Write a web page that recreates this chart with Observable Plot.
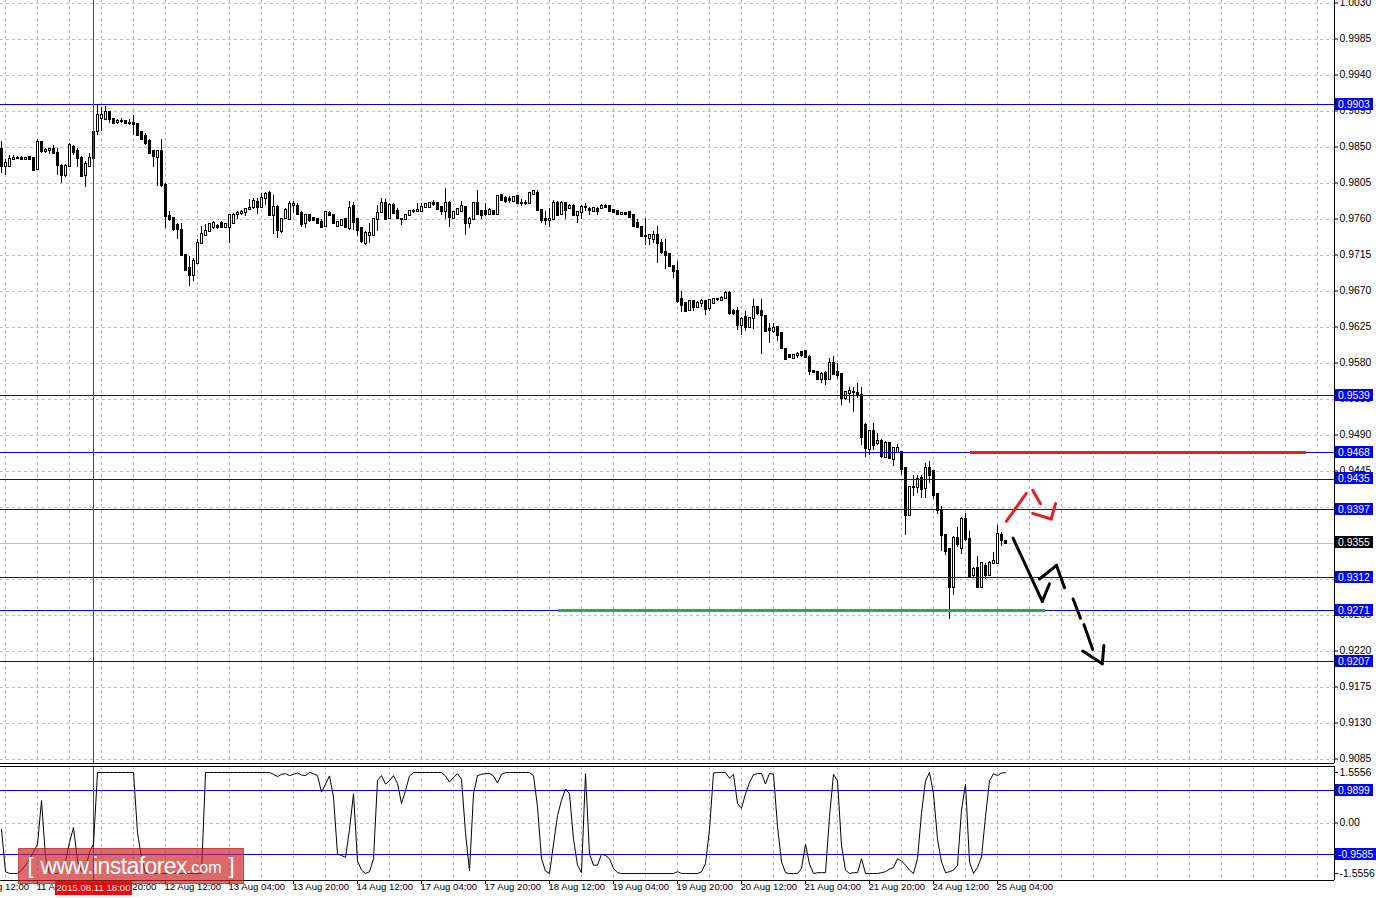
<!DOCTYPE html>
<html><head><meta charset="utf-8">
<script src="https://cdn.jsdelivr.net/npm/d3@7"></script>
<script src="https://cdn.jsdelivr.net/npm/@observablehq/plot@0.6"></script>
<style>
body{margin:0;background:#fff;font-family:"Liberation Sans",Arial,sans-serif;}
#wrap{position:relative;width:1376px;height:898px;overflow:hidden;background:#fff;}
#main,#osc{position:absolute;left:0;}
#main{top:0;} #osc{top:764px;}
#wm{position:absolute;left:18px;top:848px;width:226px;height:36px;background:rgba(205,35,35,0.68);border:1px solid rgba(150,0,0,0.35);box-sizing:border-box;color:#fff;display:flex;align-items:center;justify-content:center;white-space:nowrap;font-family:"Liberation Sans",Arial,sans-serif;}
#wm .br{font-size:22px;margin:0 7px;font-weight:300;}
#wm .www{font-size:23px;letter-spacing:-0.6px;}
#wm .com{font-size:16px;margin-top:4px;}
</style></head>
<body><div id="wrap"><div id="main"></div><div id="osc"></div>
<div id="wm"><span class="br">[</span><span class="www">www.instaforex</span><span class="com">.com</span><span class="br">]</span></div></div>
<script>
// bar index = hours from 12 Aug 12:00 (H1 bars, weekend skipped)
const firstBar = -41;
// [open, high, low, close]
const candles = [
[0.9847,0.9857,0.9817,0.9826],[0.9826,0.9834,0.9815,0.9829],[0.9826,0.9839,0.9825,0.9835],[0.9835,0.9839,0.9833,0.9836],[0.9836,0.9838,0.9835,0.9836],
[0.9836,0.9838,0.9834,0.9835],[0.9835,0.9837,0.9834,0.9836],[0.9837,0.9838,0.9833,0.9834],[0.9836,0.9837,0.9820,0.9821],[0.9822,0.9859,0.9821,0.9856],
[0.9856,0.9857,0.9842,0.9845],[0.9845,0.9848,0.9842,0.9846],[0.9846,0.9848,0.9841,0.9847],[0.9847,0.9852,0.9841,0.9842],[0.9842,0.9848,0.9815,0.9827],
[0.9826,0.9828,0.9805,0.9815],[0.9814,0.9828,0.9812,0.9826],[0.9826,0.9855,0.9825,0.9852],[0.9850,0.9852,0.9840,0.9843],[0.9845,0.9848,0.9825,0.9836],
[0.9836,0.9838,0.9812,0.9813],[0.9814,0.9832,0.9800,0.9828],[0.9826,0.9842,0.9825,0.9836],[0.9836,0.9869,0.9834,0.9868],[0.9869,0.9903,0.9865,0.9890],
[0.9886,0.9900,0.9869,0.9890],[0.9885,0.9901,0.9884,0.9893],[0.9893,0.9894,0.9880,0.9884],[0.9884,0.9886,0.9878,0.9880],[0.9881,0.9885,0.9878,0.9882],
[0.9882,0.9886,0.9879,0.9882],[0.9882,0.9883,0.9879,0.9880],[0.9880,0.9884,0.9877,0.9879],[0.9880,0.9890,0.9865,0.9878],[0.9878,0.9880,0.9864,0.9865],
[0.9868,0.9869,0.9859,0.9860],[0.9863,0.9867,0.9852,0.9855],[0.9857,0.9859,0.9841,0.9842],[0.9844,0.9846,0.9825,0.9838],[0.9837,0.9845,0.9801,0.9844],
[0.9845,0.9860,0.9800,0.9802],
[0.9802,0.9805,0.9748,0.9763],[0.9763,0.9769,0.9757,0.9760],[0.9761,0.9762,0.9744,0.9747],[0.9752,0.9755,0.9734,0.9747],[0.9746,0.9755,0.9713,0.9714],
[0.9714,0.9714,0.9694,0.9696],[0.9698,0.9713,0.9676,0.9689],[0.9690,0.9711,0.9682,0.9707],[0.9705,0.9734,0.9705,0.9730],[0.9730,0.9751,0.9729,0.9741],
[0.9739,0.9753,0.9739,0.9745],[0.9745,0.9755,0.9744,0.9753],[0.9750,0.9757,0.9747,0.9755],[0.9751,0.9753,0.9747,0.9750],[0.9755,0.9757,0.9749,0.9750],
[0.9750,0.9755,0.9749,0.9753],[0.9750,0.9765,0.9729,0.9764],[0.9755,0.9767,0.9753,0.9765],[0.9766,0.9769,0.9760,0.9767],[0.9767,0.9771,0.9765,0.9768],
[0.9768,0.9773,0.9763,0.9772],[0.9772,0.9784,0.9771,0.9773],[0.9775,0.9786,0.9772,0.9782],[0.9781,0.9786,0.9766,0.9775],[0.9775,0.9792,0.9773,0.9786],
[0.9786,0.9793,0.9777,0.9791],[0.9792,0.9794,0.9764,0.9765],[0.9765,0.9790,0.9741,0.9775],[0.9775,0.9777,0.9736,0.9746],[0.9745,0.9761,0.9742,0.9760],
[0.9761,0.9773,0.9760,0.9771],[0.9760,0.9782,0.9759,0.9778],[0.9777,0.9782,0.9767,0.9778],[0.9776,0.9779,0.9765,0.9766],[0.9767,0.9769,0.9750,0.9753],
[0.9755,0.9765,0.9748,0.9764],[0.9765,0.9766,0.9756,0.9758],[0.9761,0.9762,0.9757,0.9758],[0.9759,0.9760,0.9754,0.9755],[0.9756,0.9759,0.9748,0.9750],
[0.9751,0.9769,0.9750,0.9768],[0.9767,0.9769,0.9763,0.9764],[0.9765,0.9766,0.9753,0.9755],[0.9751,0.9757,0.9750,0.9756],[0.9752,0.9759,0.9751,0.9758],
[0.9759,0.9761,0.9748,0.9750],[0.9748,0.9782,0.9746,0.9773],[0.9776,0.9781,0.9746,0.9756],[0.9759,0.9761,0.9738,0.9746],[0.9748,0.9750,0.9730,0.9732],
[0.9730,0.9744,0.9727,0.9742],[0.9740,0.9755,0.9730,0.9742],[0.9740,0.9761,0.9739,0.9760],[0.9760,0.9777,0.9744,0.9767],[0.9768,0.9786,0.9767,0.9780],
[0.9780,0.9784,0.9759,0.9760],[0.9761,0.9779,0.9759,0.9777],[0.9777,0.9779,0.9766,0.9767],[0.9769,0.9773,0.9760,0.9761],[0.9760,0.9761,0.9752,0.9759],
[0.9760,0.9765,0.9758,0.9764],[0.9765,0.9770,0.9763,0.9769],[0.9769,0.9772,0.9767,0.9770],[0.9770,0.9780,0.9769,0.9771],[0.9769,0.9780,0.9768,0.9775],
[0.9775,0.9779,0.9774,0.9778],[0.9775,0.9780,0.9774,0.9780],[0.9780,0.9783,0.9776,0.9778],[0.9779,0.9780,0.9771,0.9772],[0.9775,0.9776,0.9765,0.9769],
[0.9769,0.9798,0.9760,0.9780],[0.9780,0.9782,0.9750,0.9762],[0.9761,0.9769,0.9760,0.9768],[0.9766,0.9773,0.9765,0.9772],[0.9769,0.9782,0.9768,0.9776],
[0.9775,0.9776,0.9740,0.9755],[0.9755,0.9762,0.9748,0.9760],[0.9759,0.9780,0.9758,0.9780],[0.9780,0.9796,0.9765,0.9766],[0.9770,0.9771,0.9759,0.9765],
[0.9769,0.9780,0.9763,0.9766],[0.9766,0.9773,0.9765,0.9771],[0.9770,0.9771,0.9765,0.9766],[0.9766,0.9790,0.9765,0.9788],[0.9789,0.9791,0.9782,0.9783],
[0.9786,0.9788,0.9780,0.9782],[0.9784,0.9788,0.9780,0.9783],[0.9782,0.9788,0.9781,0.9787],[0.9788,0.9790,0.9779,0.9780],[0.9780,0.9784,0.9776,0.9779],
[0.9780,0.9783,0.9777,0.9780],[0.9780,0.9793,0.9779,0.9792],[0.9791,0.9795,0.9790,0.9794],[0.9792,0.9796,0.9770,0.9771],[0.9771,0.9772,0.9755,0.9758],
[0.9760,0.9769,0.9752,0.9758],[0.9758,0.9773,0.9750,0.9759],[0.9760,0.9783,0.9759,0.9780],[0.9780,0.9782,0.9764,0.9765],[0.9766,0.9782,0.9765,0.9780],
[0.9780,0.9780,0.9760,0.9771],[0.9773,0.9778,0.9772,0.9776],[0.9776,0.9778,0.9763,0.9764],[0.9765,0.9770,0.9755,0.9768],[0.9768,0.9777,0.9760,0.9775],
[0.9775,0.9780,0.9769,0.9775],[0.9772,0.9775,0.9765,0.9771],[0.9769,0.9775,0.9768,0.9773],[0.9772,0.9775,0.9765,0.9770],[0.9773,0.9778,0.9772,0.9776],
[0.9776,0.9778,0.9773,0.9774],[0.9776,0.9777,0.9768,0.9769],[0.9771,0.9772,0.9767,0.9768],[0.9770,0.9771,0.9765,0.9766],[0.9766,0.9768,0.9765,0.9767],
[0.9767,0.9768,0.9765,0.9766],[0.9768,0.9769,0.9761,0.9762],[0.9764,0.9765,0.9750,0.9751],[0.9755,0.9760,0.9750,0.9750],[0.9750,0.9751,0.9737,0.9738],
[0.9738,0.9761,0.9727,0.9738],[0.9736,0.9740,0.9727,0.9739],[0.9735,0.9744,0.9730,0.9739],[0.9740,0.9751,0.9705,0.9730],[0.9730,0.9734,0.9716,0.9718],
[0.9718,0.9734,0.9697,0.9714],[0.9716,0.9717,0.9700,0.9701],[0.9701,0.9702,0.9686,0.9695],[0.9695,0.9707,0.9655,0.9657],[0.9659,0.9669,0.9643,0.9652],
[0.9654,0.9655,0.9644,0.9645],[0.9646,0.9658,0.9645,0.9657],[0.9657,0.9658,0.9645,0.9650],[0.9650,0.9657,0.9648,0.9655],[0.9654,0.9659,0.9650,0.9657],
[0.9657,0.9658,0.9639,0.9647],[0.9648,0.9659,0.9645,0.9658],[0.9655,0.9661,0.9654,0.9660],[0.9659,0.9661,0.9657,0.9660],[0.9658,0.9663,0.9657,0.9661],
[0.9661,0.9669,0.9660,0.9667],[0.9667,0.9669,0.9640,0.9642],[0.9645,0.9647,0.9640,0.9642],[0.9644,0.9650,0.9621,0.9627],[0.9627,0.9637,0.9615,0.9634],
[0.9637,0.9644,0.9620,0.9625],[0.9625,0.9637,0.9625,0.9636],[0.9636,0.9659,0.9622,0.9650],[0.9650,0.9650,0.9640,0.9642],[0.9645,0.9660,0.9591,0.9639],
[0.9638,0.9639,0.9619,0.9620],[0.9622,0.9630,0.9605,0.9621],[0.9620,0.9630,0.9617,0.9623],[0.9625,0.9625,0.9607,0.9614],[0.9617,0.9618,0.9597,0.9598],
[0.9597,0.9598,0.9584,0.9585],[0.9589,0.9590,0.9586,0.9587],[0.9586,0.9591,0.9585,0.9589],[0.9589,0.9593,0.9586,0.9591],[0.9593,0.9594,0.9587,0.9590],
[0.9594,0.9595,0.9586,0.9587],[0.9587,0.9589,0.9565,0.9569],[0.9570,0.9571,0.9567,0.9568],[0.9568,0.9569,0.9559,0.9560],[0.9559,0.9568,0.9554,0.9566],
[0.9567,0.9569,0.9552,0.9560],[0.9560,0.9586,0.9559,0.9580],[0.9579,0.9588,0.9565,0.9566],[0.9568,0.9580,0.9559,0.9565],[0.9566,0.9567,0.9527,0.9536],
[0.9536,0.9544,0.9533,0.9543],[0.9542,0.9550,0.9529,0.9544],[0.9543,0.9550,0.9518,0.9543],[0.9542,0.9554,0.9536,0.9540],[0.9540,0.9550,0.9477,0.9487],
[0.9502,0.9504,0.9462,0.9473],[0.9472,0.9495,0.9465,0.9494],[0.9494,0.9504,0.9471,0.9477],[0.9479,0.9492,0.9477,0.9482],[0.9482,0.9485,0.9461,0.9463],
[0.9462,0.9482,0.9461,0.9480],[0.9479,0.9480,0.9459,0.9461],[0.9460,0.9475,0.9451,0.9473],[0.9468,0.9478,0.9467,0.9473],[0.9468,0.9469,0.9440,0.9447],
[0.9448,0.9450,0.9365,0.9390],[0.9390,0.9426,0.9389,0.9425],[0.9425,0.9439,0.9413,0.9425],[0.9425,0.9439,0.9417,0.9435],[0.9436,0.9439,0.9411,0.9422],
[0.9423,0.9455,0.9411,0.9448],[0.9448,0.9457,0.9429,0.9440],[0.9444,0.9445,0.9410,0.9414],[0.9416,0.9417,0.9391,0.9396],[0.9395,0.9401,0.9344,0.9364],
[0.9364,0.9365,0.9340,0.9345],[0.9347,0.9348,0.9259,0.9300],[0.9300,0.9363,0.9290,0.9361],[0.9361,0.9375,0.9350,0.9353],[0.9348,0.9387,0.9341,0.9384],
[0.9384,0.9392,0.9357,0.9359],[0.9360,0.9370,0.9311,0.9313],[0.9314,0.9324,0.9311,0.9322],[0.9323,0.9338,0.9300,0.9300],[0.9300,0.9330,0.9300,0.9329],
[0.9326,0.9329,0.9309,0.9315],[0.9314,0.9332,0.9313,0.9330],[0.9330,0.9343,0.9329,0.9332],[0.9330,0.9377,0.9329,0.9366],[0.9365,0.9368,0.9351,0.9358],
[0.9357,0.9358,0.9354,0.9355]
];
// oscillator value per bar (same bars)
const oscValues = [
-0.2,-1.5,-1.5556,-1.5556,-1.5556,-1.45,-1.3,-1.1,-0.9,-0.65,
0.69,-1.06,-1.5556,-1.5556,-1.5556,-1.5,-1.2,-0.6,-0.14,-1.17,
-1.5,-1.4,-0.9,-0.65,1.5556,1.5556,1.5556,1.5556,1.5556,1.5556,
1.5556,1.5556,1.5556,1.5556,-0.3,-1.06,-1.5556,-1.5556,-1.5556,-1.5556,
-1.5556,-1.5556,-1.5556,-1.5556,-1.5556,-1.5556,-1.5556,-1.5556,-1.5556,-1.5556,
-1.5556,1.5556,1.5556,1.5556,1.5556,1.5556,1.5556,1.5556,1.5556,1.5556,
1.5556,1.5556,1.5556,1.5556,1.5556,1.5556,1.5556,1.5556,1.50,1.43,
1.50,1.52,1.46,1.50,1.54,1.48,1.46,1.5556,1.52,1.46,
0.95,1.2,1.45,0.8,-0.96,-1.0,-1.06,-0.2,0.9,-1.17,
-1.45,-1.5556,-1.5,-1.1,1.31,1.46,1.2,1.3,1.46,1.22,
0.6,1.0,1.45,1.5556,1.5556,1.5556,1.5556,1.5556,1.5556,1.5556,
1.5556,1.45,1.26,1.41,1.52,1.35,-0.3,-1.48,0.9,1.46,
1.5,1.52,1.52,1.45,1.23,1.5,1.5556,1.5556,1.5556,1.5556,
1.5556,1.5556,1.5556,1.46,0.5,-1.1,-1.48,-1.5556,-0.65,0.23,
0.7,1.05,0.9,-0.5,-1.3,-1.53,1.52,-0.96,-1.3,-1.3,
-0.96,-1.0,-1.1,-1.4,-1.53,-1.5556,-1.5556,-1.5556,-1.5556,-1.5556,
-1.5556,-1.5556,-1.5556,-1.5556,-1.5556,-1.5556,-1.5556,-1.5556,-1.5556,-1.5,
-1.5556,-1.5556,-1.5556,-1.5556,-1.5556,-1.5,-1.25,-0.2,1.54,1.5556,
1.5556,1.5556,1.38,1.5,0.6,0.45,0.9,1.25,1.48,1.52,
1.53,1.2,1.53,1.5,-0.1,-1.2,-1.53,-1.5556,-1.5556,-1.5556,
-1.4,-0.65,-1.27,-1.5556,-1.53,-1.53,-1.53,0.2,1.5,1.3,
-0.7,-1.45,-1.5556,-1.53,-1.53,-1.1,-1.5556,-1.5556,-1.5556,-1.5556,
-1.53,-1.5,-1.42,-1.37,-1.1,-1.17,-1.3,-1.45,-1.5556,-1.1,
0.3,1.3,1.5556,0.9,-0.5,-1.2,-1.53,-1.5,-1.45,-1.3,
0.4,1.2,-1.2,-1.5556,-1.37,-1.05,0.2,1.3,1.52,1.46,
1.54,1.55
];
const priceTicks = [1.0030,0.9985,0.9940,0.9895,0.9850,0.9805,0.9760,0.9715,0.9670,0.9625,0.9580,0.9535,0.9490,0.9445,0.9400,0.9355,0.9310,0.9265,0.9220,0.9175,0.9130,0.9085];
// scale labels fully covered by the level boxes are not drawn
const hiddenPriceLabels = [0.9400,0.9355,0.9310];
const levelLines = [0.9903,0.9539,0.9468,0.9435,0.9397,0.9312,0.9271,0.9207];
const bidPrice = 0.9355;
const oscTicks = [1.5556, 0, -1.5556];
const oscLevels = [0.9899, -0.9585];
const crossBar = -18;
const crossLabel = "2015.08.11 18:00";
const timeTickBars = [-48,-32,-16,0,16,32,48,64,80,96,112,128,144,160,176,192,208];
const timeTickLabels = ["10 Aug 12:00","11 Aug 04:00","11 Aug 20:00","12 Aug 12:00","13 Aug 04:00","13 Aug 20:00","14 Aug 12:00","17 Aug 04:00","17 Aug 20:00","18 Aug 12:00","19 Aug 04:00","19 Aug 20:00","20 Aug 12:00","21 Aug 04:00","21 Aug 20:00","24 Aug 12:00","25 Aug 04:00"];
// drawn objects: [price, fromBar, toBar]
const resistanceSeg = [0.9468, 201.25, 285.25];
const supportSeg = [0.9271, 98.25, 220];
// arrow strokes: [bar1, price1, bar2, price2]
const redArrow = [[210.2,0.9382,215.2,0.9417],[216.8,0.9421,218.75,0.9404],[216.8,0.9392,221.4,0.9385],[221.4,0.9385,222.5,0.9404]];
const blackArrow = [[211.9,0.9361,219.2,0.9282],[219.2,0.9282,221.0,0.9304],[218.5,0.9310,222.75,0.9327],[222.75,0.9327,224.75,0.9299],[226.9,0.9285,228.75,0.9261],[229.6,0.9253,231.8,0.9222],[229.3,0.9220,234.2,0.9204],[234.2,0.9204,234.6,0.9227]];

const FONT = '"Liberation Sans", Arial, sans-serif';
const W = 1376;
const xDomain = [-41.25, 292.25];
const gridBars = d3.range(-40, 292, 8);
const bars = candles.map((c, i) => ({k: firstBar + i, open: c[0], high: c[1], low: c[2], close: c[3]}));
const osc = oscValues.map((v, i) => ({k: firstBar + i, v}));
const timeTicks = timeTickBars.map((k, i) => ({k, label: timeTickLabels[i]}));
const yMain = [0.9079375, 1.0033125];
const yOsc = [-1.7712, 1.7404];
const crisp = {shapeRendering: "crispEdges"};
const grid = {stroke: "#c0c0c0", strokeDasharray: "3,3", ...crisp};
const seg = () => ({x1: d => d[0], y1: d => d[1], x2: d => d[2], y2: d => d[3]});

const mainPlot = Plot.plot({
  width: W, height: 764, marginLeft: 0, marginRight: 42, marginTop: 0, marginBottom: 1,
  style: {fontFamily: FONT, fontSize: "10.4px", background: "white", color: "black", overflow: "visible"},
  x: {domain: xDomain, axis: null},
  y: {domain: yMain, axis: null},
  marks: [
    Plot.ruleY(priceTicks, grid),
    Plot.ruleX(gridBars, grid),
    Plot.ruleY([bidPrice], {stroke: "#c0c0c0", ...crisp}),
    Plot.ruleX(bars, {x: "k", y1: "low", y2: "high", stroke: "black", ...crisp}),
    Plot.rect(bars, {x1: d => d.k - 0.25, x2: d => d.k + 0.25, y1: "open", y2: "close",
      fill: d => d.close >= d.open ? "white" : "black", stroke: "black", insetTop: -0.5, insetBottom: -0.5, ...crisp}),
    Plot.ruleY(levelLines, {stroke: "#0000ff", ...crisp}),
    Plot.ruleX([crossBar], {stroke: "#ff0000", ...crisp}),
    Plot.ruleY([resistanceSeg], {y: d => d[0], x1: d => d[1], x2: d => d[2], stroke: "#e41e26", strokeWidth: 3, ...crisp}),
    Plot.ruleY([supportSeg], {y: d => d[0], x1: d => d[1], x2: d => d[2], stroke: "#2ea84a", strokeWidth: 3, ...crisp}),
    Plot.link(redArrow, {...seg(), stroke: "#e41e26", strokeWidth: 3, strokeLinecap: "round"}),
    Plot.link(blackArrow, {...seg(), stroke: "black", strokeWidth: 3, strokeLinecap: "round"}),
    Plot.ruleY([yMain[0]], {stroke: "black", ...crisp}),
    Plot.ruleX([xDomain[1]], {stroke: "black", ...crisp}),
    Plot.axisY(priceTicks, {anchor: "right", tickFormat: d => hiddenPriceLabels.includes(d) ? "" : d.toFixed(4), tickSize: 3, tickPadding: 2, fontSize: 10.4, label: null})
  ]
});

const oscPlot = Plot.plot({
  width: W, height: 134, marginLeft: 0, marginRight: 42, marginTop: 2, marginBottom: 18,
  style: {fontFamily: FONT, fontSize: "10.4px", background: "white", color: "black", overflow: "visible"},
  x: {domain: xDomain, axis: null},
  y: {domain: yOsc, axis: null},
  marks: [
    Plot.ruleX(gridBars, grid),
    Plot.ruleY([0], grid),
    Plot.ruleY(oscLevels, {stroke: "#0000ff", ...crisp}),
    Plot.ruleX([crossBar], {stroke: "#ff0000", ...crisp}),
    Plot.line(osc, {x: "k", y: "v", stroke: "black", strokeWidth: 1}),
    Plot.ruleY([yOsc[0], yOsc[1]], {stroke: "black", ...crisp}),
    Plot.ruleX([xDomain[1]], {stroke: "black", ...crisp}),
    Plot.axisY(oscTicks, {anchor: "right", tickFormat: d => d === 0 ? "0.00" : d.toFixed(4), tickSize: 3, tickPadding: 2, fontSize: 10.4, label: null}),
    Plot.axisX(timeTickBars.filter(k => k >= xDomain[0]), {anchor: "bottom", tickSize: 4, tickFormat: () => "", label: null, ...crisp}),
    Plot.text(timeTicks, {x: "k", text: "label", frameAnchor: "bottom", textAnchor: "start", lineAnchor: "top", dx: -1, dy: 3, fontSize: 9.6, fill: "black"})
  ]
});

document.getElementById("main").appendChild(mainPlot);
document.getElementById("osc").appendChild(oscPlot);

function addBoxes(plot, items) {
  const ys = plot.scale("y"), xs = plot.scale("x");
  const left = xs.range[1] + 1;
  const g = d3.select(plot).append("g").attr("font-family", FONT).attr("font-size", 10.4).attr("text-anchor", "start");
  items.forEach(({value, fill, width}) => {
    const cy = Math.round(ys.apply(value));
    g.append("rect").attr("x", left).attr("y", cy - 6).attr("width", width).attr("height", 12).attr("fill", fill);
    g.append("text").attr("x", left + 3).attr("y", cy).attr("dy", "0.36em").attr("fill", "white").attr("text-anchor", "start")
      .text(value.toFixed(4));
  });
}
addBoxes(mainPlot, [...levelLines.map(v => ({value: v, fill: "#0000ff", width: 38})), {value: bidPrice, fill: "black", width: 38}]);
addBoxes(oscPlot, oscLevels.map(v => ({value: v, fill: "#0000ff", width: v < 0 ? 41 : 38})));

// crosshair time label
(() => {
  const xs = oscPlot.scale("x"), ys = oscPlot.scale("y");
  const cx = Math.round(xs.apply(crossBar));
  const top = ys.range[0] + 1;
  const g = d3.select(oscPlot).append("g").attr("font-family", FONT);
  g.append("rect").attr("x", cx - 38).attr("y", top).attr("width", 77).attr("height", 14).attr("fill", "#ff0000");
  g.append("text").attr("x", cx + 0.5).attr("y", top + 7).attr("dy", "0.36em").attr("text-anchor", "middle")
    .attr("fill", "white").attr("font-size", 9.6).text(crossLabel);
})();
</script>
</body></html>
